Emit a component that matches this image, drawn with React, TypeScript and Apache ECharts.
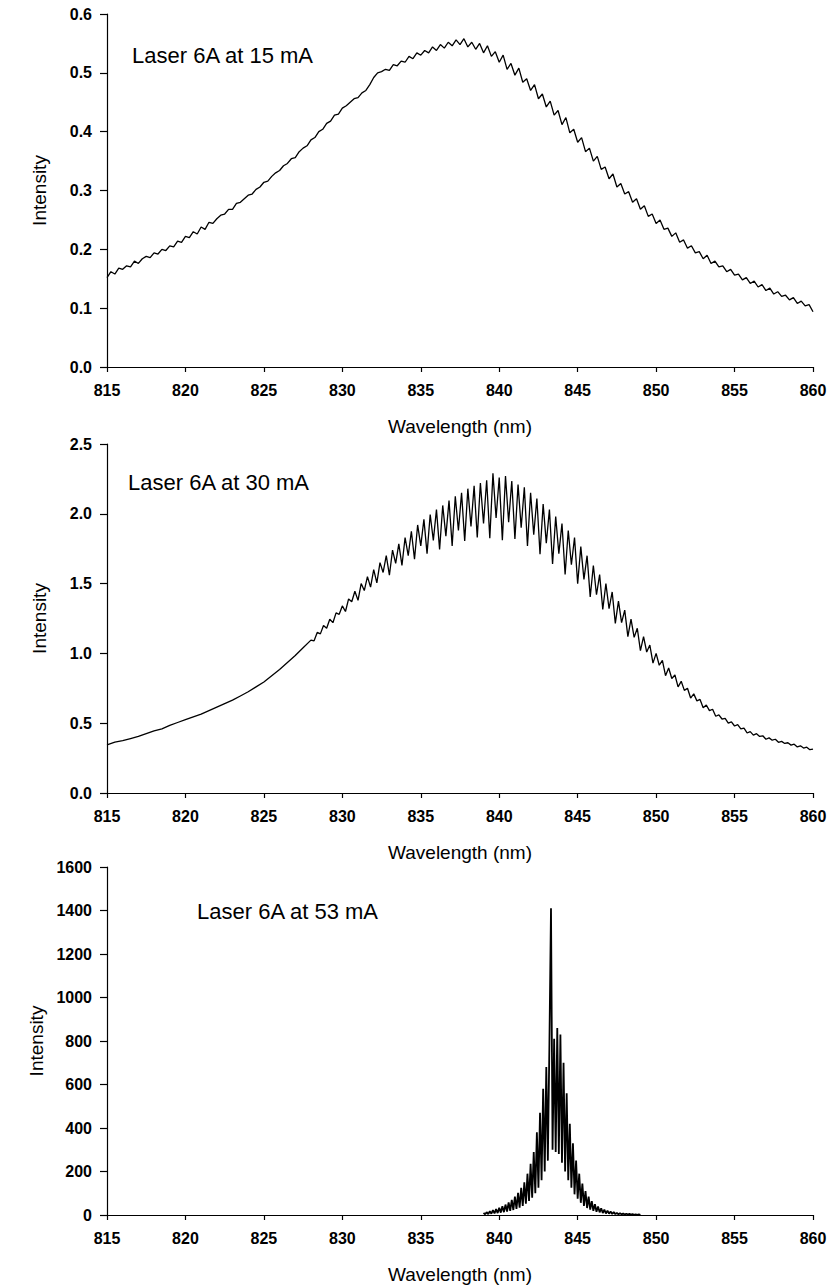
import React, { useEffect, useRef } from "react";
import * as echarts from "echarts";

// ---------- data ----------
const X_MIN = 815;
const X_MAX = 860;
const X_INTERVAL = 5;

// Panel 1: Laser 6A at 15 mA (read every 0.25 nm from 815 nm)
const P1_START = 815;
const P1_STEP = 0.25;
const P1_INTENSITY = [
  0.152, 0.162, 0.158, 0.168, 0.166, 0.172, 0.17, 0.18, 0.176, 0.184,
  0.188, 0.186, 0.194, 0.192, 0.2, 0.198, 0.206, 0.204, 0.214, 0.212,
  0.222, 0.22, 0.23, 0.226, 0.238, 0.234, 0.246, 0.244, 0.252, 0.258,
  0.26, 0.268, 0.268, 0.278, 0.28, 0.286, 0.292, 0.294, 0.302, 0.306,
  0.314, 0.316, 0.324, 0.33, 0.334, 0.342, 0.346, 0.354, 0.356, 0.366,
  0.372, 0.376, 0.386, 0.39, 0.4, 0.404, 0.414, 0.418, 0.428, 0.43,
  0.44, 0.444, 0.45, 0.456, 0.458, 0.466, 0.47, 0.48, 0.492, 0.5,
  0.502, 0.506, 0.504, 0.514, 0.512, 0.52, 0.518, 0.528, 0.524, 0.534,
  0.53, 0.538, 0.534, 0.544, 0.538, 0.548, 0.542, 0.552, 0.546, 0.556,
  0.548, 0.558, 0.544, 0.552, 0.54, 0.55, 0.534, 0.546, 0.528, 0.536,
  0.518, 0.53, 0.506, 0.516, 0.496, 0.508, 0.484, 0.49, 0.47, 0.48,
  0.456, 0.464, 0.442, 0.452, 0.428, 0.436, 0.412, 0.424, 0.398, 0.404,
  0.382, 0.39, 0.366, 0.372, 0.35, 0.358, 0.336, 0.34, 0.32, 0.328,
  0.306, 0.312, 0.294, 0.298, 0.28, 0.286, 0.268, 0.274, 0.256, 0.26,
  0.244, 0.25, 0.234, 0.236, 0.222, 0.228, 0.212, 0.216, 0.202, 0.206,
  0.194, 0.196, 0.184, 0.19, 0.176, 0.18, 0.17, 0.172, 0.162, 0.166,
  0.156, 0.158, 0.148, 0.152, 0.142, 0.146, 0.136, 0.14, 0.13, 0.134,
  0.124, 0.128, 0.12, 0.122, 0.114, 0.118, 0.108, 0.112, 0.104, 0.106,
  0.094,
];

// Panel 2: Laser 6A at 30 mA
// smooth part, every 0.5 nm from 815 to 828 nm
const P2A_START = 815;
const P2A_STEP = 0.5;
const P2A_INTENSITY = [
  0.345, 0.365, 0.375, 0.39, 0.405, 0.425, 0.445, 0.46, 0.485, 0.505,
  0.525, 0.545, 0.565, 0.59, 0.615, 0.64, 0.665, 0.695, 0.725, 0.76,
  0.795, 0.84, 0.885, 0.935, 0.985, 1.04, 1.095,
];
// fringed part, every 0.2 nm from 828.2 to 860 nm (dip, peak, dip, peak ...)
const P2B_START = 828.2;
const P2B_STEP = 0.2;
const P2B_INTENSITY = [
  1.09, 1.15, 1.14, 1.2, 1.18, 1.245, 1.22, 1.29, 1.28, 1.34,
  1.3, 1.39, 1.37, 1.445, 1.38, 1.5, 1.45, 1.55, 1.475, 1.6,
  1.505, 1.65, 1.58, 1.7, 1.56, 1.74, 1.645, 1.785, 1.63, 1.83,
  1.7, 1.875, 1.675, 1.92, 1.77, 1.96, 1.715, 1.995, 1.81, 2.03,
  1.745, 2.06, 1.84, 2.095, 1.77, 2.125, 1.88, 2.15, 1.805, 2.18,
  1.91, 2.2, 1.83, 2.22, 1.93, 2.24, 1.825, 2.29, 1.97, 2.26,
  1.81, 2.27, 1.94, 2.235, 1.82, 2.21, 1.9, 2.19, 1.77, 2.15,
  1.85, 2.11, 1.71, 2.07, 1.79, 2.03, 1.64, 1.98, 1.715, 1.93,
  1.565, 1.88, 1.635, 1.83, 1.5, 1.765, 1.53, 1.7, 1.405, 1.63,
  1.42, 1.565, 1.315, 1.5, 1.32, 1.44, 1.215, 1.375, 1.22, 1.31,
  1.12, 1.245, 1.115, 1.18, 1.02, 1.12, 1.01, 1.06, 0.93, 1.0,
  0.915, 0.95, 0.84, 0.895, 0.82, 0.845, 0.76, 0.8, 0.735, 0.75,
  0.68, 0.71, 0.66, 0.67, 0.61, 0.63, 0.59, 0.6, 0.55, 0.56,
  0.53, 0.535, 0.5, 0.51, 0.48, 0.49, 0.46, 0.465, 0.43, 0.44,
  0.415, 0.425, 0.405, 0.41, 0.385, 0.395, 0.378, 0.385, 0.363, 0.37,
  0.355, 0.36, 0.343, 0.35, 0.33, 0.338, 0.322, 0.328, 0.31, 0.315,
];

// Panel 3: Laser 6A at 53 mA, every 0.1 nm from 839 to 849 nm
const P3_START = 839;
const P3_STEP = 0.1;
const P3_INTENSITY = [
  10, 3, 13, 4, 17, 6, 22, 7, 27, 9,
  33, 11, 40, 13, 48, 16, 58, 19, 70, 23,
  85, 28, 102, 34, 125, 42, 150, 52, 190, 65,
  235, 80, 290, 100, 380, 125, 470, 160, 580, 200,
  680, 250, 790, 1410, 300, 810, 290, 860, 280, 830,
  240, 700, 200, 560, 160, 420, 125, 330, 95, 250,
  75, 190, 56, 145, 42, 110, 32, 84, 25, 64,
  19, 50, 15, 39, 12, 31, 9, 25, 7, 20,
  6, 16, 5, 13, 4, 10, 3, 8, 3, 7,
  2, 6, 2, 5, 2, 4, 1, 3, 1, 3,
  1,
];

const PANEL_LABELS = ["Laser 6A at 15 mA", "Laser 6A at 30 mA", "Laser 6A at 53 mA"];
const Y_MAX = [0.6, 2.5, 1600];
const Y_INTERVAL = [0.1, 0.5, 200];
const Y_DECIMALS = [1, 1, 0];
const X_TITLE = "Wavelength (nm)";
const Y_TITLE = "Intensity";

// ---------- helpers ----------
const toPairs = (start: number, step: number, vals: number[]) =>
  vals.map((v, i) => [+(start + i * step).toFixed(3), v]);

const FONT = "'Liberation Sans', Arial, Helvetica, sans-serif";

export default function App() {
  const ref = useRef<HTMLDivElement>(null);

  useEffect(() => {
    if (!ref.current) return;
    const chart = echarts.init(ref.current, null, { renderer: "svg" });

    const grids = [
      { left: 107, top: 14, width: 706, height: 353 },
      { left: 107, top: 444, width: 706, height: 349 },
      { left: 107, top: 867, width: 706, height: 348 },
    ];

    const seriesData = [
      toPairs(P1_START, P1_STEP, P1_INTENSITY),
      [
        ...toPairs(P2A_START, P2A_STEP, P2A_INTENSITY),
        ...toPairs(P2B_START, P2B_STEP, P2B_INTENSITY),
      ],
      toPairs(P3_START, P3_STEP, P3_INTENSITY),
    ];

    const labelPos = [
      { x: 132, y: 55 },
      { x: 128, y: 482 },
      { x: 197, y: 911 },
    ];

    const option: any = {
      animation: false,
      backgroundColor: "#ffffff",
      grid: grids,
      xAxis: grids.map((_, i) => ({
        type: "value",
        gridIndex: i,
        min: X_MIN,
        max: X_MAX,
        interval: X_INTERVAL,
        name: X_TITLE,
        nameLocation: "middle",
        nameGap: 50,
        nameTextStyle: { fontFamily: FONT, fontSize: 19, color: "#000" },
        axisLine: { lineStyle: { color: "#000", width: 1.2 } },
        axisTick: { show: true, inside: false, length: 5, lineStyle: { color: "#000", width: 1.2 } },
        axisLabel: {
          fontFamily: FONT,
          fontSize: 16,
          fontWeight: "bold",
          color: "#000",
          margin: 15,
        },
        splitLine: { show: false },
      })),
      yAxis: grids.map((_, i) => ({
        type: "value",
        gridIndex: i,
        min: 0,
        max: Y_MAX[i],
        interval: Y_INTERVAL[i],
        name: Y_TITLE,
        nameLocation: "middle",
        nameGap: 58,
        nameTextStyle: { fontFamily: FONT, fontSize: 19, color: "#000" },
        axisLine: { show: true, lineStyle: { color: "#000", width: 1.2 } },
        axisTick: { show: true, inside: false, length: 7, lineStyle: { color: "#000", width: 1.2 } },
        axisLabel: {
          fontFamily: FONT,
          fontSize: 16,
          fontWeight: "bold",
          color: "#000",
          margin: 15,
          formatter: (v: number) => v.toFixed(Y_DECIMALS[i]),
        },
        splitLine: { show: false },
      })),
      series: seriesData.map((d, i) => ({
        type: "line",
        xAxisIndex: i,
        yAxisIndex: i,
        data: d,
        showSymbol: false,
        symbol: "none",
        lineStyle: { color: "#000", width: i === 2 ? 1.8 : 1.3 },
        silent: true,
      })),
      graphic: PANEL_LABELS.map((t, i) => ({
        type: "text",
        x: labelPos[i].x,
        y: labelPos[i].y,
        style: {
          text: t,
          fill: "#000",
          font: `22px ${FONT}`,
          textAlign: "left",
          textVerticalAlign: "middle",
        },
      })),
    };

    chart.setOption(option);
    return () => chart.dispose();
  }, []);

  return (
    <div
      ref={ref}
      style={{ position: "absolute", left: 0, top: 0, width: 831, height: 1286, background: "#fff" }}
    />
  );
}
